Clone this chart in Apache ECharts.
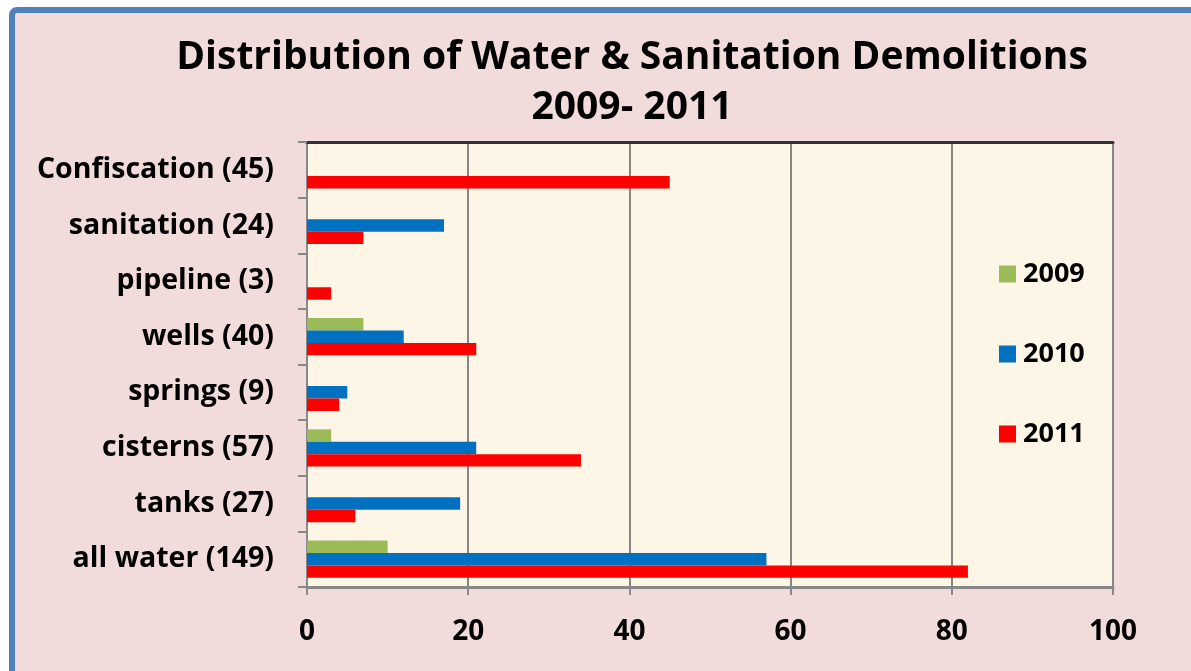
<!DOCTYPE html>
<html>
<head>
<meta charset="utf-8">
<script src="https://cdn.jsdelivr.net/npm/echarts@6/dist/echarts.min.js"></script>
<style>
  html, body { margin: 0; padding: 0; width: 1191px; height: 671px; overflow: hidden; background: #ffffff; }
  #frame {
    position: absolute; left: 9px; top: 7px; width: 1200px; height: 700px;
    box-sizing: border-box; border: 6px solid #4F81BD; border-radius: 8px;
    background: #F2DCDB;
  }
  #chart { position: absolute; left: 0; top: 0; width: 1191px; height: 671px; }
</style>
</head>
<body>
<div id="frame"></div>
<div id="chart"></div>
<script>
// Demolition categories, listed top to bottom
const categories = [
  'Confiscation (45)', 'sanitation (24)', 'pipeline (3)', 'wells (40)',
  'springs (9)', 'cisterns (57)', 'tanks (27)', 'all water (149)'
];
const seriesNames = ['2009', '2010', '2011'];
const values2009 = [0, 0, 0, 7, 0, 3, 0, 10];
const values2010 = [0, 17, 0, 12, 5, 21, 19, 57];
const values2011 = [45, 7, 3, 21, 4, 34, 6, 82];
const xTicks = [0, 20, 40, 60, 80, 100];

const colors = ['#9BBB59', '#0070C0', '#FF0000'];
const font = '"Open Sans", Lato, sans-serif';
const seriesValues = [values2009, values2010, values2011];

const chart = echarts.init(document.getElementById('chart'), null, { renderer: 'canvas' });

chart.setOption({
  backgroundColor: 'transparent',
  animation: false,
  title: {
    text: 'Distribution of Water & Sanitation Demolitions\n2009- 2011',
    left: 627, top: 28, textAlign: 'center',
    textStyle: { fontFamily: font, fontWeight: 'bold', fontSize: 39, lineHeight: 50, color: '#000' }
  },
  legend: {
    orient: 'vertical', left: 994, top: 255,
    itemWidth: 17, itemHeight: 17, itemGap: 52,
    icon: 'rect',
    data: seriesNames,
    textStyle: { fontFamily: font, fontWeight: 'bold', fontSize: 27, lineHeight: 28, color: '#000', padding: [0, 0, 0, 2] }
  },
  grid: {
    left: 307, right: 78, top: 142, bottom: 84,
    show: true, backgroundColor: '#FDF5E6', borderWidth: 0
  },
  xAxis: [{
    type: 'value', min: 0, max: 100, interval: 20,
    axisLine: { show: true, lineStyle: { color: '#888', width: 3 } },
    axisTick: { show: true, length: 8, lineStyle: { color: '#888', width: 2 } },
    splitLine: { show: true, lineStyle: { color: '#868686', width: 2 } },
    axisLabel: {
      margin: 31, fontFamily: font, fontWeight: 'bold', fontSize: 28, color: '#000',
      formatter: v => xTicks.includes(v) ? String(v) : ''
    }
  }, {
    type: 'value', position: 'top', min: 0, max: 100,
    axisLine: { show: true, lineStyle: { color: '#333', width: 3 } },
    axisTick: { show: false }, axisLabel: { show: false }, splitLine: { show: false }
  }],
  yAxis: {
    type: 'category', data: categories, inverse: true,
    axisLine: { show: true, lineStyle: { color: '#888', width: 2 } },
    axisTick: { show: true, length: 9, lineStyle: { color: '#888', width: 2 } },
    axisLabel: { margin: 33, fontFamily: font, fontWeight: 'bold', fontSize: 28.5, color: '#000' }
  },
  series: seriesNames.map((name, i) => ({
    name, type: 'bar', data: seriesValues[i],
    barGap: '0%', barCategoryGap: '33%',
    itemStyle: { color: colors[i] }
  }))
});
</script>
</body>
</html>
